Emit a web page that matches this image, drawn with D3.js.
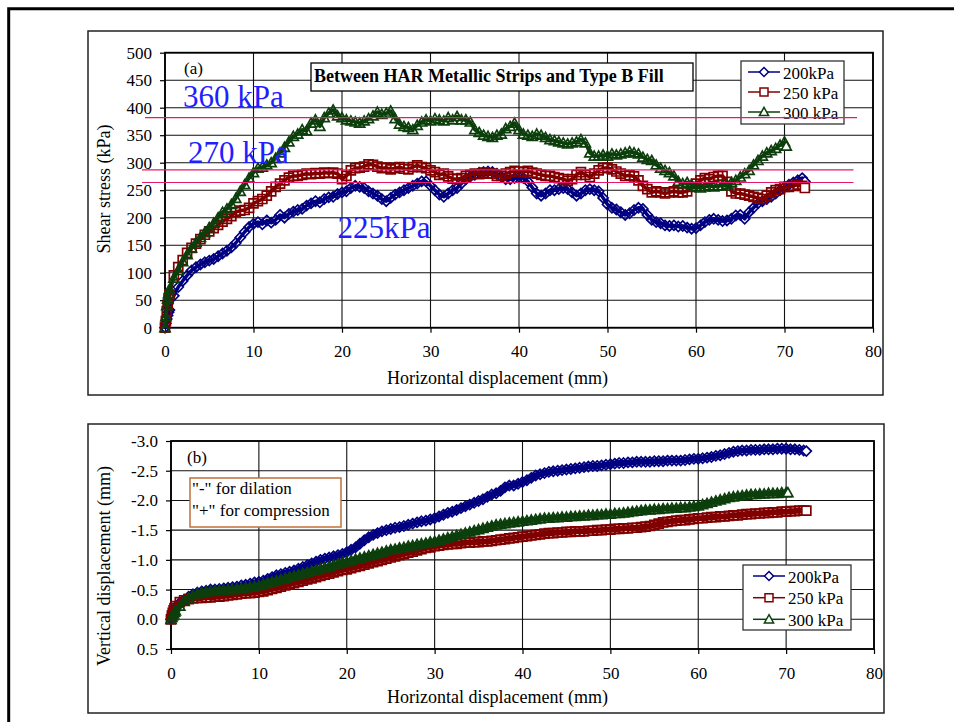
<!DOCTYPE html>
<html>
<head>
<meta charset="utf-8">
<script src="https://cdn.jsdelivr.net/npm/d3@7"></script>
<style>
  body { margin: 0; background: #fff; }
  svg text { font-family: "Liberation Serif", "Times New Roman", serif; fill: #000; }
</style>
</head>
<body>
<svg id="chart" width="954" height="722"></svg>
<script>
// ---- data ----
const xTicks = [0, 10, 20, 30, 40, 50, 60, 70, 80];
const shearTicks = [0, 50, 100, 150, 200, 250, 300, 350, 400, 450, 500];
const vertTicks = [-3.0, -2.5, -2.0, -1.5, -1.0, -0.5, 0.0, 0.5];
const seriesNames = ["200kPa", "250 kPa", "300 kPa"];

// horizontal displacement (mm) at which the curves were read
const dispGrid = [0, 0.1, 0.2, 0.3, 0.4].concat(d3.range(1, 145).map(i => i * 0.5));
const disp200 = dispGrid.concat([72.3]);
const disp250 = dispGrid.concat([72.3]);
const disp300 = dispGrid.slice(0, 145).concat([70.2]);

// (a) shear stress, kPa
const shear200 = [0, 8, 16, 22, 28,
  32, 58, 74, 85, 95, 104, 110, 115, 119, 122,
  125, 130, 135, 140, 146, 154, 164, 174, 183, 189,
  192, 188, 195, 191, 196, 205, 200, 207, 211, 214,
  216, 222, 226, 230, 228, 234, 237, 238, 243, 246,
  248, 254, 258, 256, 254, 248, 244, 240, 234, 230,
  236, 242, 246, 250, 254, 258, 262, 266, 266, 258,
  250, 242, 238, 244, 250, 254, 262, 270, 275, 278,
  282, 283, 284, 283, 280, 275, 270, 270, 272, 274,
  272, 266, 255, 244, 240, 244, 250, 250, 252, 254,
  252, 246, 240, 244, 250, 252, 250, 248, 236, 224,
  218, 215, 210, 205, 208, 214, 218, 216, 205, 196,
  192, 190, 186, 185, 186, 184, 185, 182, 180, 181,
  186, 192, 196, 198, 196, 194, 195, 198, 204, 205,
  198, 210, 218, 226, 230, 234, 238, 244, 250, 256,
  260, 264, 268, 272,
  266];
const shear250 = [0, 12, 30, 42, 52,
  60, 95, 110, 123, 136, 145, 153, 161, 169, 175,
  181, 187, 193, 198, 203, 210, 213, 214, 218, 226,
  230, 234, 240, 248, 256, 262, 268, 273, 276, 276,
  278, 280, 279, 281, 280, 282, 281, 282, 280, 270,
  276, 286, 290, 291, 293, 297, 296, 293, 290, 291,
  288, 290, 292, 289, 288, 292, 295, 292, 290, 286,
  283, 278, 280, 275, 271, 270, 272, 276, 278, 280,
  279, 282, 280, 280, 276, 276, 280, 283, 285, 284,
  283, 285, 282, 280, 278, 276, 276, 274, 272, 270,
  267, 270, 278, 283, 278, 274, 280, 286, 290, 291,
  288, 284, 280, 276, 277, 275, 268, 258, 252, 246,
  248, 246, 244, 246, 248, 246, 246, 248, 256, 262,
  268, 272, 270, 274, 276, 276, 265, 248, 244, 244,
  242, 240, 238, 236, 234, 240, 246, 250, 252, 256,
  256, 258, 260, 258,
  254];
const shear300 = [0, 20, 40, 52, 62,
  70, 90, 104, 120, 133, 145, 155, 164, 173, 182,
  190, 200, 210, 216, 224, 235, 248, 260, 272, 282,
  290, 292, 296, 300, 308, 318, 328, 338, 348, 352,
  360, 358, 372, 378, 366, 382, 390, 396, 385, 382,
  378, 376, 374, 372, 376, 380, 385, 392, 388, 390,
  394, 380, 370, 366, 364, 360, 368, 374, 378, 376,
  380, 378, 376, 382, 378, 384, 378, 378, 374, 360,
  355, 350, 348, 346, 350, 352, 362, 366, 372, 360,
  352, 350, 348, 352, 350, 346, 342, 340, 338, 336,
  334, 336, 338, 342, 336, 318, 312, 312, 314, 312,
  316, 314, 316, 318, 320, 318, 316, 310, 306, 304,
  296, 290, 286, 282, 276, 266, 262, 264, 260, 256,
  254, 256, 258, 256, 258, 258, 260, 264, 268, 274,
  280, 286, 296, 304, 312, 318, 322, 326, 332, 338,
  330];

// (b) vertical displacement, mm (negative = dilation)
const vert200 = [0, -0.05, -0.1, -0.14, -0.17,
  -0.2, -0.28, -0.33, -0.38, -0.42, -0.45, -0.47, -0.48, -0.5, -0.5,
  -0.51, -0.52, -0.53, -0.54, -0.55, -0.57, -0.58, -0.6, -0.62, -0.63,
  -0.65, -0.68, -0.71, -0.74, -0.76, -0.78, -0.8, -0.82, -0.85, -0.88,
  -0.91, -0.94, -0.97, -1.0, -1.02, -1.04, -1.06, -1.08, -1.1, -1.13,
  -1.17, -1.21, -1.27, -1.33, -1.38, -1.42, -1.45, -1.48, -1.5, -1.52,
  -1.54, -1.55, -1.57, -1.59, -1.61, -1.63, -1.65, -1.66, -1.68, -1.7,
  -1.73, -1.76, -1.79, -1.81, -1.84, -1.87, -1.9, -1.93, -1.96, -1.99,
  -2.02, -2.06, -2.1, -2.12, -2.16, -2.22, -2.25, -2.25, -2.28, -2.31,
  -2.34, -2.38, -2.42, -2.44, -2.46, -2.48, -2.49, -2.5, -2.51, -2.52,
  -2.53, -2.54, -2.55, -2.56, -2.57, -2.58, -2.58, -2.59, -2.6, -2.61,
  -2.62, -2.63, -2.63, -2.64, -2.64, -2.65, -2.65, -2.65, -2.65, -2.66,
  -2.66, -2.66, -2.67, -2.67, -2.67, -2.67, -2.68, -2.69, -2.7, -2.7,
  -2.71, -2.72, -2.73, -2.75, -2.76, -2.78, -2.8, -2.82, -2.83, -2.84,
  -2.84, -2.85, -2.85, -2.85, -2.86, -2.86, -2.86, -2.87, -2.87, -2.87,
  -2.86, -2.86, -2.85, -2.84,
  -2.83];
const vert250 = [0, -0.06, -0.11, -0.15, -0.19,
  -0.22, -0.29, -0.32, -0.34, -0.35, -0.36, -0.36, -0.37, -0.37, -0.38,
  -0.38, -0.39, -0.4, -0.41, -0.42, -0.43, -0.44, -0.44, -0.45, -0.46,
  -0.47, -0.49, -0.51, -0.53, -0.55, -0.57, -0.59, -0.61, -0.63, -0.65,
  -0.67, -0.69, -0.71, -0.73, -0.75, -0.77, -0.79, -0.81, -0.83, -0.84,
  -0.86, -0.88, -0.9, -0.92, -0.94, -0.96, -0.98, -1.0, -1.02, -1.04,
  -1.06, -1.08, -1.1, -1.12, -1.14, -1.16, -1.18, -1.2, -1.21, -1.23,
  -1.24, -1.25, -1.26, -1.27, -1.27, -1.28, -1.29, -1.29, -1.3, -1.3,
  -1.31, -1.31, -1.32, -1.33, -1.34, -1.35, -1.36, -1.37, -1.38, -1.39,
  -1.4, -1.41, -1.42, -1.43, -1.44, -1.45, -1.45, -1.46, -1.46, -1.47,
  -1.47, -1.48, -1.48, -1.48, -1.49, -1.49, -1.5, -1.5, -1.51, -1.51,
  -1.52, -1.52, -1.53, -1.53, -1.54, -1.54, -1.55, -1.56, -1.57, -1.59,
  -1.61, -1.63, -1.64, -1.65, -1.66, -1.67, -1.67, -1.68, -1.69, -1.7,
  -1.7, -1.71, -1.72, -1.72, -1.73, -1.73, -1.74, -1.75, -1.75, -1.76,
  -1.77, -1.77, -1.78, -1.78, -1.79, -1.79, -1.8, -1.8, -1.81, -1.81,
  -1.82, -1.82, -1.83, -1.83,
  -1.83];
const vert300 = [0, -0.03, -0.06, -0.09, -0.12,
  -0.14, -0.22, -0.3, -0.36, -0.4, -0.43, -0.45, -0.46, -0.47, -0.48,
  -0.49, -0.49, -0.5, -0.5, -0.51, -0.52, -0.53, -0.54, -0.55, -0.57,
  -0.59, -0.61, -0.63, -0.65, -0.67, -0.69, -0.71, -0.73, -0.75, -0.77,
  -0.79, -0.81, -0.83, -0.85, -0.87, -0.89, -0.91, -0.93, -0.95, -0.97,
  -0.99, -1.01, -1.03, -1.05, -1.07, -1.09, -1.11, -1.13, -1.15, -1.17,
  -1.18, -1.2, -1.21, -1.23, -1.24, -1.26, -1.27, -1.28, -1.3, -1.31,
  -1.33, -1.35, -1.37, -1.39, -1.41, -1.43, -1.45, -1.47, -1.49, -1.51,
  -1.53, -1.55, -1.57, -1.59, -1.6, -1.61, -1.62, -1.63, -1.64, -1.65,
  -1.66, -1.67, -1.68, -1.69, -1.7, -1.7, -1.71, -1.71, -1.72, -1.72,
  -1.73, -1.73, -1.74, -1.74, -1.75, -1.75, -1.76, -1.76, -1.77, -1.77,
  -1.78, -1.78, -1.79, -1.8, -1.81, -1.82, -1.83, -1.84, -1.84, -1.85,
  -1.85, -1.86, -1.86, -1.87, -1.87, -1.88, -1.88, -1.89, -1.9, -1.91,
  -1.93, -1.95, -1.97, -1.99, -2.01, -2.03, -2.05, -2.06, -2.07, -2.08,
  -2.09, -2.1, -2.1, -2.11, -2.11, -2.12, -2.12, -2.12, -2.13, -2.13,
  -2.13];

// peak lines and their labels drawn on panel (a)
const peakLevels = [382, 287, 264];
const peakLabels = ["360 kPa", "270 kPa", "225kPa"];

// ---- styling ----
const colors = ["#000080", "#800000", "#0c3f0c"];
const markers = [
  "M0,-5L5,0L0,5L-5,0Z",           // diamond
  "M-4.5,-4.5H4.5V4.5H-4.5Z",      // square
  "M0,-5L5,4H-5Z"                  // triangle
];
const legendMarkers = [
  "M0,-4.5L4.5,0L0,4.5L-4.5,0Z",
  "M-4,-4H4V4H-4Z",
  "M0,-4.6L4.6,3.6H-4.6Z"
];
const svg = d3.select("#chart");

// outer frame (only top and left edges show)
svg.append("path")
  .attr("d", "M8.7,722V8.7H954")
  .attr("fill", "none").attr("stroke", "#000").attr("stroke-width", 3);

function drawPanel(cfg) {
  const g = svg.append("g");
  const x = d3.scaleLinear().domain([0, 80]).range([cfg.left, cfg.right]);
  const y = d3.scaleLinear().domain(cfg.yDomain).range([cfg.bottom, cfg.top]);

  // panel border
  g.append("rect")
    .attr("x", cfg.box[0]).attr("y", cfg.box[1])
    .attr("width", cfg.box[2] - cfg.box[0]).attr("height", cfg.box[3] - cfg.box[1])
    .attr("fill", "#fff").attr("stroke", "#222").attr("stroke-width", 1.5);

  // gridlines
  g.append("g").selectAll("line").data(cfg.yTicks).join("line")
    .attr("x1", cfg.left).attr("x2", cfg.right)
    .attr("y1", d => y(d)).attr("y2", d => y(d))
    .attr("stroke", "#111").attr("stroke-width", 1.1);
  g.append("g").selectAll("line").data(xTicks).join("line")
    .attr("x1", d => x(d)).attr("x2", d => x(d))
    .attr("y1", cfg.top).attr("y2", cfg.bottom)
    .attr("stroke", "#111").attr("stroke-width", 1.1);

  // axes
  const yAxis = g.append("g")
    .attr("transform", "translate(" + cfg.left + ",0)")
    .call(d3.axisLeft(y).tickValues(cfg.yTicks).tickFormat(cfg.yFormat)
      .tickSize(5).tickSizeOuter(0).tickPadding(8));
  const xAxis = g.append("g")
    .attr("transform", "translate(0," + cfg.bottom + ")")
    .call(d3.axisBottom(x).tickValues(xTicks).tickFormat(d3.format("d"))
      .tickSize(5).tickSizeOuter(0).tickPadding(12.5));
  [yAxis, xAxis].forEach(a => {
    a.attr("font-family", null).attr("font-size", null);
    a.select(".domain").remove();
    a.selectAll(".tick line").attr("stroke", "#000").attr("stroke-width", 1.2);
    a.selectAll("text").style("font-size", "17px");
  });

  // plot area border
  g.append("rect")
    .attr("x", cfg.left).attr("y", cfg.top)
    .attr("width", cfg.right - cfg.left).attr("height", cfg.bottom - cfg.top)
    .attr("fill", "none").attr("stroke", "#000").attr("stroke-width", 1.8);

  // axis titles
  g.append("text")
    .attr("x", 497.5).attr("y", cfg.xTitleY)
    .attr("text-anchor", "middle").style("font-size", "18px")
    .text("Horizontal displacement (mm)");
  g.append("text")
    .attr("transform", "translate(110," + cfg.yTitleY + ") rotate(-90)")
    .attr("text-anchor", "middle").style("font-size", "18px")
    .text(cfg.yTitle);

  // series: dense markers over a solid core, like the overlapping Excel markers
  const line = d3.line().x(d => x(d[0])).y(d => y(d[1]));
  cfg.series.forEach((s, i) => {
    const pts = d3.zip(s[0], s[1]);
    g.append("path").datum(pts)
      .attr("d", line)
      .attr("fill", "none").attr("stroke", colors[i])
      .attr("stroke-width", cfg.core).attr("stroke-linejoin", "round");
    g.append("g").selectAll("path").data(pts).join("path")
      .attr("d", markers[i])
      .attr("transform", d => "translate(" + x(d[0]) + "," + y(d[1]) + ")")
      .attr("fill", (d, j) => j === pts.length - 1 ? "#fff" : "none")
      .attr("stroke", colors[i]).attr("stroke-width", 1.7);
  });

  // panel tag
  g.append("text").attr("x", cfg.tag[1]).attr("y", cfg.tag[2])
    .style("font-size", "17px").text(cfg.tag[0]);

  return { g: g, x: x, y: y };
}

function drawLegend(g, left, top, w, h, lineX, rowY) {
  g.append("rect")
    .attr("x", left).attr("y", top).attr("width", w).attr("height", h)
    .attr("fill", "#fff").attr("stroke", "#333").attr("stroke-width", 1.3);
  seriesNames.forEach((name, i) => {
    const cy = rowY[i];
    g.append("line")
      .attr("x1", lineX).attr("x2", lineX + 32).attr("y1", cy).attr("y2", cy)
      .attr("stroke", colors[i]).attr("stroke-width", 1.5);
    g.append("path")
      .attr("d", legendMarkers[i])
      .attr("transform", "translate(" + (lineX + 16) + "," + cy + ")")
      .attr("fill", "#fff").attr("stroke", colors[i]).attr("stroke-width", 1.5);
    g.append("text")
      .attr("x", lineX + 35).attr("y", cy + 6.5)
      .style("font-size", "17px").text(name);
  });
}

// ---- panel (a) ----
const pa = drawPanel({
  left: 165, right: 873, top: 52.7, bottom: 327.7,
  box: [88, 31, 883, 395],
  yDomain: [0, 500], yTicks: shearTicks, yFormat: d3.format("d"),
  yTitle: "Shear stress (kPa)", yTitleY: 189, xTitleY: 384.3,
  tag: ["(a)", 184, 74], core: 3.5,
  series: [[disp200, shear200], [disp250, shear250], [disp300, shear300]]
});

// title box
pa.g.append("rect")
  .attr("x", 311).attr("y", 63).attr("width", 382).attr("height", 28)
  .attr("fill", "#fff").attr("stroke", "#000").attr("stroke-width", 1.3);
pa.g.append("text")
  .attr("x", 314).attr("y", 82)
  .style("font-size", "18px").style("font-weight", "bold")
  .text("Between HAR Metallic Strips and Type B Fill");

drawLegend(pa.g, 741, 61, 103, 63, 748, [72, 92, 112]);

// peak lines
pa.g.append("g").selectAll("line").data(peakLevels).join("line")
  .attr("x1", (d, i) => pa.x(i === 0 ? -2.26 : -2.6))
  .attr("x2", (d, i) => pa.x(i === 0 ? 78.2 : 77.8))
  .attr("y1", d => pa.y(d)).attr("y2", d => pa.y(d))
  .attr("stroke", "#e8196b").attr("stroke-width", 1.2);

const labelPos = [[2.03, 401], [2.6, 300], [19.5, 164]];
pa.g.append("g").selectAll("text").data(peakLabels).join("text")
  .attr("x", (d, i) => pa.x(labelPos[i][0]))
  .attr("y", (d, i) => pa.y(labelPos[i][1]))
  .style("font-size", "31px").style("fill", "#1e1eff")
  .text(d => d);

// ---- panel (b) ----
const pb = drawPanel({
  left: 171, right: 874, top: 441, bottom: 649,
  box: [88, 424, 884, 713],
  yDomain: [0.5, -3.0], yTicks: vertTicks, yFormat: d => d.toFixed(1),
  yTitle: "Vertical displacement (mm)", yTitleY: 566, xTitleY: 702.7,
  tag: ["(b)", 187, 463], core: 6,
  series: [[disp200, vert200], [disp250, vert250], [disp300, vert300]]
});

// sign convention note
pb.g.append("rect")
  .attr("x", 190).attr("y", 478).attr("width", 151).attr("height", 49)
  .attr("fill", "#fff").attr("stroke", "#c0703c").attr("stroke-width", 1.5);
pb.g.append("text").attr("x", 192).attr("y", 494)
  .style("font-size", "17px").text('"-" for dilation');
pb.g.append("text").attr("x", 192).attr("y", 516)
  .style("font-size", "17px").text('"+" for compression');

drawLegend(pb.g, 743, 565, 108, 65, 753, [576, 597.7, 619.3]);
</script>
</body>
</html>
